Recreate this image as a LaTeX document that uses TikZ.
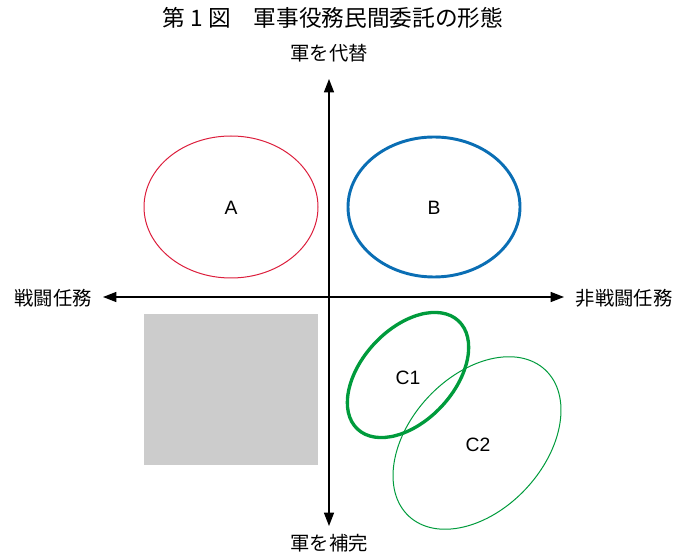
\documentclass[tikz,border=0pt]{standalone}
\usepackage{fontspec}
\setmainfont{Liberation Sans}
\newfontfamily\jp{Noto Sans CJK JP}
\usetikzlibrary{arrows.meta,shapes.geometric}
\definecolor{cred}{RGB}{220,30,60}
\definecolor{cblue}{RGB}{10,110,180}
\definecolor{cgreen}{RGB}{0,155,60}
\definecolor{cgray}{RGB}{204,204,204}
\begin{document}
\begin{tikzpicture}[x=0.75pt,y=-0.75pt,
  axis/.style={line width=1pt,-{Triangle[length=10pt,width=7.5pt]}},
  lbl/.style={font=\jp\fontsize{14.5}{16}\selectfont,inner sep=0pt},
  let/.style={font=\fontsize{14.5}{16}\selectfont,inner sep=0pt}]
\useasboundingbox (0,0) rectangle (677,555);
% title
\node[font=\jp\fontsize{17}{19}\selectfont,inner sep=0pt] (title) at (333,18) {第 1 図\quad 軍事役務民間委託の形態};
% axes
\coordinate (o) at (329,297);
\coordinate (top) at (329,79);
\coordinate (bot) at (329,526);
\coordinate (lft) at (103,297);
\coordinate (rgt) at (564,297);
\draw[axis] (o |- 0,300) -- (top);
\draw[axis] (o |- 0,295) -- (bot);
\draw[axis] (332,297) -- (lft);
\draw[axis] (326,297) -- (rgt);
\node[lbl] (ltop) at (329,53) {軍を代替};
\node[lbl] (lbot) at (329,543) {軍を補完};
\node[lbl] (lleft) at (53,298) {戦闘任務};
\node[lbl] (lright) at (624,298) {非戦闘任務};
% shapes
\draw[cred,line width=0.75pt] (231,207) ellipse [x radius=87, y radius=71];
\node[let] (A) at (231,208) {A};
\draw[cblue,line width=2.2pt] (434,207) ellipse [x radius=86, y radius=70];
\node[let] (B) at (434,208) {B};
\fill[cgray] (144,314) rectangle (318,465);
\draw[cgreen,line width=0.75pt,rotate around={47:(477,443)}] (477,443) ellipse [x radius=100, y radius=67];
\draw[cgreen,line width=2.5pt,rotate around={47:(408,375)}] (408,375) ellipse [x radius=74, y radius=46];
\node[let] (C1) at (408,378) {C1};
\node[let] (C2) at (478,445) {C2};
\end{tikzpicture}
\end{document}
